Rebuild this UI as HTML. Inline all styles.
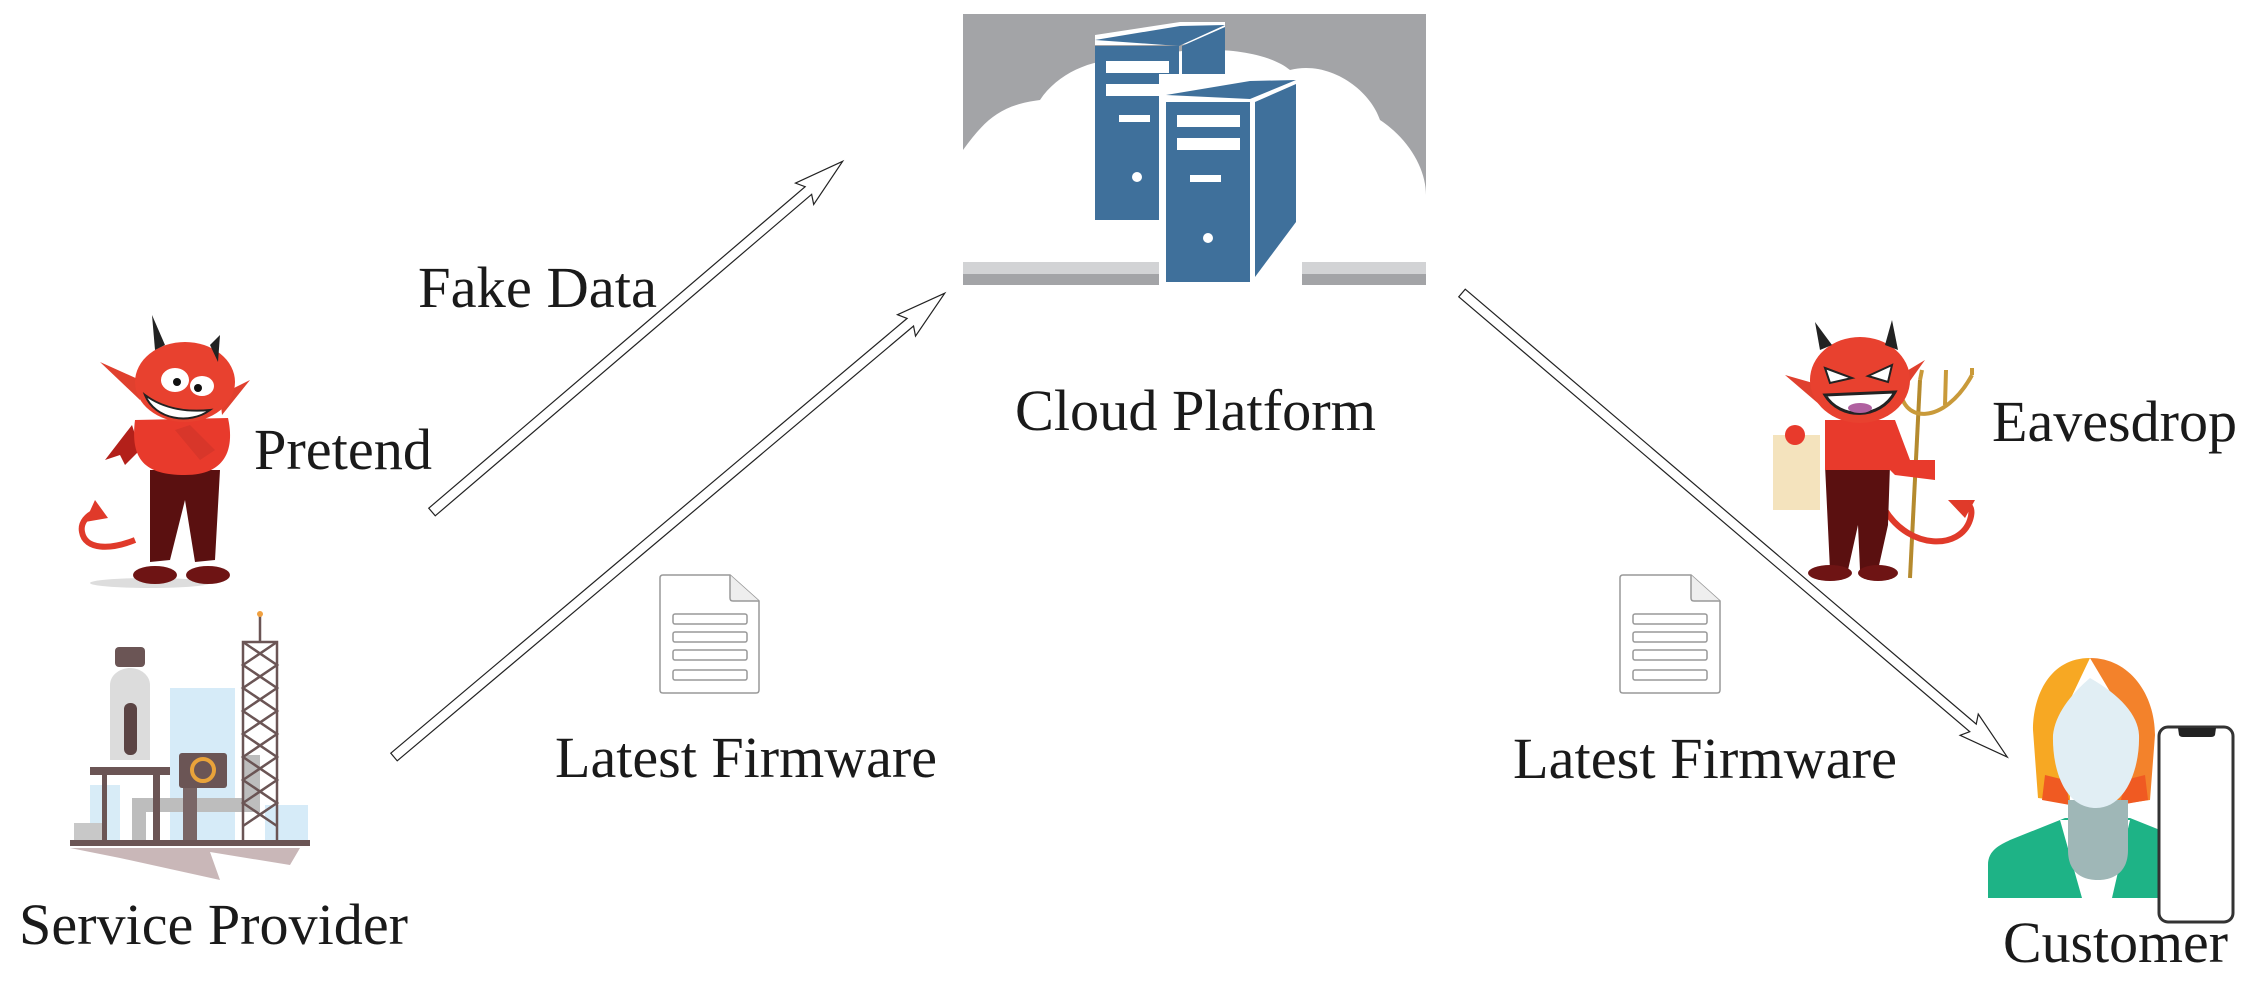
<!DOCTYPE html>
<html><head><meta charset="utf-8"><style>
html,body{margin:0;padding:0;background:#fff;}
body{width:2261px;height:983px;overflow:hidden;position:relative;}
svg{position:absolute;left:0;top:0;}
text{font-family:"Liberation Serif",serif;fill:#1a1a1a;}
</style></head><body>
<svg width="2261" height="983" viewBox="0 0 2261 983" xmlns="http://www.w3.org/2000/svg">
<!-- Cloud -->
<rect x="963" y="14" width="463" height="271" fill="#a3a4a7"/>
<path d="M963,150 C985,120 1000,105 1040,100 C1060,70 1100,55 1140,60 C1180,45 1260,45 1290,70 C1330,60 1370,90 1380,120 C1410,140 1426,170 1426,195 L1426,262 L963,262 Z" fill="#fff"/>
<rect x="963" y="262" width="463" height="12" fill="#d2d3d5"/>
<!-- Back server -->
<polygon points="1095,35 1180,22 1225,22 1225,40 1179,45 1095,45" fill="#fff"/>
<polygon points="1095,40 1180,26 1225,25 1179,46" fill="#3f709b"/>
<rect x="1095" y="46" width="84" height="174" fill="#3f709b"/>
<polygon points="1182,46 1225,27 1225,220 1182,220" fill="#3f709b"/>
<rect x="1106" y="61" width="63" height="12" fill="#fff"/>
<rect x="1106" y="84" width="63" height="12" fill="#fff"/>
<rect x="1119" y="115" width="31" height="7" fill="#fff"/>
<circle cx="1137" cy="177" r="5" fill="#fff"/>
<!-- Front server -->
<rect x="1159" y="74" width="143" height="211" fill="#fff"/>
<polygon points="1166,95 1250,81 1296,80 1250,99" fill="#3f709b"/>
<rect x="1166" y="102" width="84" height="180" fill="#3f709b"/>
<polygon points="1255,102 1296,84 1296,222 1255,277" fill="#3f709b"/>
<rect x="1177" y="115" width="63" height="12" fill="#fff"/>
<rect x="1177" y="138" width="63" height="12" fill="#fff"/>
<rect x="1190" y="175" width="31" height="7" fill="#fff"/>
<circle cx="1208" cy="238" r="5" fill="#fff"/>

<!-- Arrows -->
<g fill="#fff" stroke="#222" stroke-width="1.2">
<g transform="translate(432,512) rotate(-40.5)"><polygon points="0,-5 495,-5 490,-14 540,0 490,14 495,5 0,5"/></g>
<g transform="translate(394,757) rotate(-40.1)"><polygon points="0,-5 675,-5 670,-14 720,0 670,14 675,5 0,5"/></g>
</g>

<!-- Pretend devil -->
<g transform="translate(60,300)">
<ellipse cx="90" cy="283" rx="60" ry="5" fill="#ddd"/>
<path d="M75,240 C50,250 25,250 22,232 C20,222 28,215 35,212" fill="none" stroke="#e03a2a" stroke-width="6"/>
<path d="M35,200 L25,222 L48,218 Z" fill="#e03a2a"/>
<path d="M72,125 L45,160 L60,155 L65,165 L80,150 Z" fill="#b3201a"/>
<path d="M90,170 L160,170 L155,260 L135,262 L125,200 L110,260 L90,262 Z" fill="#5a1010"/>
<ellipse cx="95" cy="275" rx="22" ry="9" fill="#6e1414"/>
<ellipse cx="148" cy="275" rx="22" ry="9" fill="#6e1414"/>
<path d="M75,120 C70,160 85,175 125,175 C165,175 175,150 168,118 Z" fill="#e83a2c"/>
<path d="M40,62 L80,80 L80,100 Z" fill="#e0402e"/>
<path d="M190,80 L160,95 L162,115 Z" fill="#e0402e"/>
<ellipse cx="125" cy="82" rx="50" ry="40" fill="#e8412f"/>
<path d="M95,50 L92,15 L105,45 Z" fill="#222"/>
<path d="M150,45 L160,35 L158,62 Z" fill="#222"/>
<ellipse cx="115" cy="80" rx="14" ry="12" fill="#fff"/><circle cx="117" cy="82" r="4" fill="#111"/>
<ellipse cx="142" cy="86" rx="12" ry="10" fill="#fff"/><circle cx="138" cy="88" r="4" fill="#111"/>
<path d="M85,95 C95,120 130,125 150,110 C130,112 105,110 85,95 Z" fill="#fff" stroke="#222" stroke-width="2"/>
<path d="M115,130 L140,160 L155,150 L130,125 Z" fill="#d8362a"/>
</g>

<!-- Service provider -->
<g transform="translate(60,590)">
<rect x="30" y="195" width="30" height="60" fill="#d8ecf7"/>
<rect x="110" y="98" width="65" height="155" fill="#d6ebf8"/>
<rect x="205" y="215" width="43" height="38" fill="#d6ebf8"/>
<path d="M10,258 L240,258 L230,275 L150,262 L160,290 L60,268 Z" fill="#c9b7b8"/>
<rect x="72" y="208" width="128" height="14" fill="#bdbdbd"/>
<rect x="72" y="208" width="14" height="45" fill="#bdbdbd"/>
<rect x="183" y="165" width="17" height="57" fill="#bdbdbd"/>
<rect x="14" y="233" width="30" height="20" fill="#c8c8c8"/>
<path d="M50,170 L50,95 C50,85 60,78 70,78 C80,78 90,85 90,95 L90,170 Z" fill="#dcdcdc"/>
<rect x="64" y="113" width="13" height="52" rx="6" fill="#5b4444"/>
<rect x="55" y="57" width="30" height="20" rx="4" fill="#6b5555"/>
<rect x="30" y="177" width="80" height="8" fill="#6b5555"/>
<rect x="42" y="185" width="5" height="70" fill="#6b5555"/>
<rect x="93" y="185" width="7" height="70" fill="#6b5555"/>
<rect x="119" y="163" width="48" height="35" rx="3" fill="#6b5555"/>
<circle cx="143" cy="180" r="11" fill="none" stroke="#e9a33a" stroke-width="4"/>
<rect x="123" y="198" width="14" height="55" fill="#7a6666"/>
<g stroke="#6b5555" stroke-width="2.5" fill="none">
<rect x="183" y="52" width="34" height="200"/>
<path d="M183,52 L217,75 L183,98 L217,121 L183,144 L217,167 L183,190 L217,213 L183,236 M217,52 L183,75 L217,98 L183,121 L217,144 L183,167 L217,190 L183,213 L217,236"/>
<path d="M200,52 L200,25"/>
</g>
<circle cx="200" cy="24" r="3" fill="#f0a040"/>
<rect x="10" y="250" width="240" height="6" fill="#6b5555"/>
</g>

<!-- Docs -->
<g fill="#fff" stroke="#999" stroke-width="1.5">
<path d="M660,578 Q660,575 663,575 L730,575 L759,601 L759,690 Q759,693 756,693 L663,693 Q660,693 660,690 Z"/>
<path d="M730,575 L730,598 Q730,601 733,601 L759,601" fill="#eee"/>
<rect x="673" y="614" width="74" height="10" rx="2"/><rect x="673" y="632" width="74" height="10" rx="2"/>
<rect x="673" y="650" width="74" height="10" rx="2"/><rect x="673" y="670" width="74" height="10" rx="2"/>
<path d="M1620,578 Q1620,575 1623,575 L1691,575 L1720,601 L1720,690 Q1720,693 1717,693 L1623,693 Q1620,693 1620,690 Z"/>
<path d="M1691,575 L1691,598 Q1691,601 1694,601 L1720,601" fill="#eee"/>
<rect x="1633" y="614" width="74" height="10" rx="2"/><rect x="1633" y="632" width="74" height="10" rx="2"/>
<rect x="1633" y="650" width="74" height="10" rx="2"/><rect x="1633" y="670" width="74" height="10" rx="2"/>
</g>

<!-- Eavesdrop devil -->
<g transform="translate(1760,310)">
<rect x="13" y="125" width="47" height="75" fill="#f4e3bd"/>
<circle cx="35" cy="125" r="10" fill="#e83a2c"/>
<path d="M160,70 L150,268" stroke="#b58a2e" stroke-width="4"/>
<path d="M140,75 C140,115 185,115 212,65 M160,70 L162,60 M185,95 L186,60 M212,65 L212,58" fill="none" stroke="#c99a3a" stroke-width="4"/>
<path d="M125,200 C150,240 200,240 210,210 C215,195 205,190 200,195" fill="none" stroke="#e03a2a" stroke-width="6"/>
<path d="M188,190 L205,208 L215,190 Z" fill="#e03a2a"/>
<path d="M65,155 L130,155 L128,215 L118,260 L100,260 L98,215 L88,260 L70,260 Z" fill="#5a1010"/>
<ellipse cx="70" cy="263" rx="22" ry="8" fill="#6e1414"/><ellipse cx="118" cy="263" rx="20" ry="8" fill="#6e1414"/>
<path d="M65,110 L135,110 L150,150 L175,150 L175,170 L135,165 L130,160 L65,160 Z" fill="#e83a2c"/>
<path d="M25,65 L60,75 L60,95 Z" fill="#e0402e"/>
<path d="M165,50 L140,65 L140,85 Z" fill="#e0402e"/>
<ellipse cx="100" cy="70" rx="50" ry="43" fill="#e8412f"/>
<path d="M60,40 L55,12 L72,35 Z" fill="#222"/><path d="M125,35 L132,10 L138,40 Z" fill="#222"/>
<path d="M65,58 L92,68 L70,73 Z" fill="#fff" stroke="#222" stroke-width="2"/>
<path d="M132,55 L108,66 L128,72 Z" fill="#fff" stroke="#222" stroke-width="2"/>
<path d="M65,85 C80,110 120,110 135,82 Z" fill="#fff" stroke="#222" stroke-width="3"/>
<ellipse cx="100" cy="98" rx="12" ry="5" fill="#b060a0"/>
</g>
<g fill="#fff" stroke="#222" stroke-width="1.2">
<g transform="translate(1462,293) rotate(40.4)"><polygon points="0,-5 671,-5 666,-14 716,0 666,14 671,5 0,5"/></g>
</g>

<!-- Customer -->
<g transform="translate(1960,640)">
<path d="M130,18 C90,18 73,55 73,90 L78,158 L110,162 L110,60 Z" fill="#f7a823"/>
<path d="M130,18 C170,18 195,55 195,95 L190,160 L155,165 L155,60 Z" fill="#f3822b"/>
<path d="M85,135 L82,160 L110,165 L105,140 Z M185,135 L188,160 L160,165 L165,140 Z" fill="#f05a22"/>
<path d="M28,258 L28,225 C28,210 40,205 50,200 L105,178 L170,178 L200,190 L200,258 Z" fill="#1eb386"/>
<path d="M100,180 L122,258 L152,258 L170,180 Z" fill="#fff"/>
<path d="M108,160 L168,160 L168,210 C168,235 150,240 138,240 C125,240 108,235 108,210 Z" fill="#9fb7b7"/>
<path d="M130,38 C110,55 95,75 93,95 C92,130 105,168 136,168 C165,168 180,130 179,95 C178,75 160,55 130,38 Z" fill="#e1eef4"/>
<rect x="199" y="87" width="74" height="195" rx="9" fill="#fff" stroke="#333" stroke-width="3"/>
<path d="M218,88 L256,88 L255,95 Q254,97 251,97 L223,97 Q220,97 219,95 Z" fill="#222"/>
</g>

<!-- Labels -->
<g font-size="58">
<text x="1015" y="430" textLength="361" lengthAdjust="spacingAndGlyphs">Cloud Platform</text>
<text x="418" y="307" textLength="239" lengthAdjust="spacingAndGlyphs">Fake Data</text>
<text x="254" y="469" textLength="178" lengthAdjust="spacingAndGlyphs">Pretend</text>
<text x="19" y="944" textLength="389" lengthAdjust="spacingAndGlyphs">Service Provider</text>
<text x="555" y="777" textLength="382" lengthAdjust="spacingAndGlyphs">Latest Firmware</text>
<text x="1513" y="778" textLength="384" lengthAdjust="spacingAndGlyphs">Latest Firmware</text>
<text x="1992" y="441" textLength="245" lengthAdjust="spacingAndGlyphs">Eavesdrop</text>
<text x="2003" y="962" textLength="225" lengthAdjust="spacingAndGlyphs">Customer</text>
</g>
</svg>
</body></html>
